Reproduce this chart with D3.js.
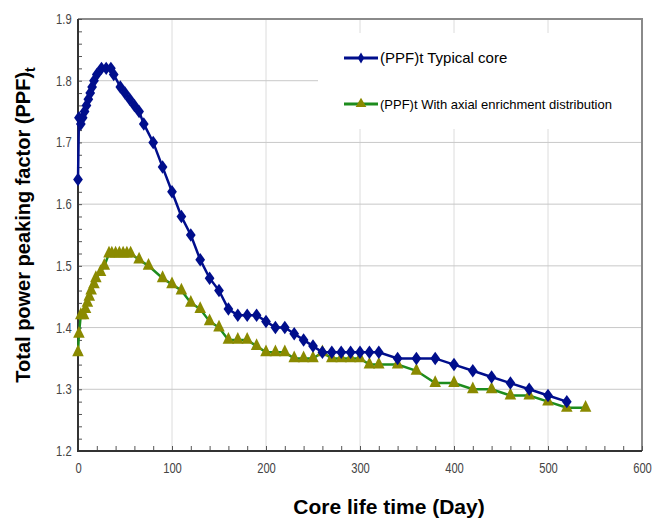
<!DOCTYPE html>
<html>
<head>
<meta charset="utf-8">
<script src="https://cdn.jsdelivr.net/npm/d3@7"></script>
<style>
  body { margin: 0; background: #fff; }
  .tick text { font-family: "Liberation Sans Narrow", "Arial Narrow", "Liberation Sans", sans-serif; }
</style>
</head>
<body>
<div id="chart"></div>
<script>
// data
var typDays = [0, 1, 3, 5, 7, 9, 11, 13, 15, 17, 20, 25, 30, 35, 38, 45, 50, 55, 60, 65, 70, 80, 90, 100,
    110, 120, 130, 140, 150, 160, 170, 180, 190, 200, 210, 220, 230, 240, 250, 260, 270, 280, 290, 300,
    310, 320, 340, 360, 380, 400, 420, 440, 460, 480, 500, 520];
var typPPF = [1.64, 1.74, 1.73, 1.74, 1.75, 1.76, 1.77, 1.78, 1.79, 1.80, 1.81, 1.82, 1.82, 1.82, 1.81, 1.79, 1.78, 1.77, 1.76, 1.75, 1.73, 1.70, 1.66, 1.62,
    1.58, 1.55, 1.51, 1.48, 1.46, 1.43, 1.42, 1.42, 1.42, 1.41, 1.40, 1.40, 1.39, 1.38, 1.37, 1.36, 1.36, 1.36, 1.36, 1.36,
    1.36, 1.36, 1.35, 1.35, 1.35, 1.34, 1.33, 1.32, 1.31, 1.30, 1.29, 1.28];

var axDays = [0, 1, 3, 6, 8, 10, 12, 14, 17, 19, 24, 28, 33, 36, 40, 44, 48, 52, 56, 65, 75, 90, 100,
    110, 120, 130, 140, 150, 160, 170, 180, 190, 200, 210, 220, 230, 240, 250, 260, 270, 280, 290, 300,
    310, 320, 340, 360, 380, 400, 420, 440, 460, 480, 500, 520, 540];
var axPPF = [1.36, 1.39, 1.42, 1.42, 1.43, 1.44, 1.45, 1.46, 1.47, 1.48, 1.49, 1.50, 1.52, 1.52, 1.52, 1.52, 1.52, 1.52, 1.52, 1.51, 1.50, 1.48, 1.47,
    1.46, 1.44, 1.43, 1.41, 1.40, 1.38, 1.38, 1.38, 1.37, 1.36, 1.36, 1.36, 1.35, 1.35, 1.35, 1.36, 1.35, 1.35, 1.35, 1.35,
    1.34, 1.34, 1.34, 1.33, 1.31, 1.31, 1.30, 1.30, 1.29, 1.29, 1.28, 1.27, 1.27];

var xTicks = [0, 100, 200, 300, 400, 500, 600];
var yTicks = [1.2, 1.3, 1.4, 1.5, 1.6, 1.7, 1.8, 1.9];
var legendNames = ["(PPF)t Typical core", "(PPF)t With axial enrichment distribution"];

var W = 656, H = 521;
var margin = { top: 19, right: 14, bottom: 70, left: 78 };

var svg = d3.select("#chart").append("svg")
    .attr("width", W)
    .attr("height", H);

var x = d3.scaleLinear().domain([0, 600]).range([margin.left, W - margin.right]);
var y = d3.scaleLinear().domain([1.2, 1.9]).range([H - margin.bottom, margin.top]);

// grid
svg.append("g").selectAll("line")
    .data(xTicks.slice(1, -1))
    .enter().append("line")
    .attr("x1", d => x(d)).attr("x2", d => x(d))
    .attr("y1", y(1.9)).attr("y2", y(1.2))
    .attr("stroke", "#dcdcdc").attr("stroke-width", 1);
svg.append("g").selectAll("line")
    .data(yTicks.slice(1, -1))
    .enter().append("line")
    .attr("x1", x(0)).attr("x2", x(600))
    .attr("y1", d => y(d)).attr("y2", d => y(d))
    .attr("stroke", "#c8c8c8").attr("stroke-width", 1);

// legend background hides the grid
svg.append("rect")
    .attr("x", 318).attr("y", 33)
    .attr("width", x(600) - 319).attr("height", 96)
    .attr("fill", "#fff");

// top / right frame
svg.append("path")
    .attr("d", "M" + x(0) + "," + y(1.9) + "H" + x(600) + "V" + y(1.2))
    .attr("fill", "none").attr("stroke", "#8a8a8a").attr("stroke-width", 2);

// minor ticks (inside)
svg.append("g")
    .attr("transform", "translate(0," + y(1.2) + ")")
    .call(d3.axisBottom(x).tickValues(d3.range(0, 601, 20)).tickSize(-5).tickFormat(""))
    .call(g => g.select(".domain").remove())
    .selectAll("line").attr("stroke", "#555");
svg.append("g")
    .attr("transform", "translate(" + x(0) + ",0)")
    .call(d3.axisLeft(y).tickValues(d3.range(1.2, 1.901, 0.02)).tickSize(-4).tickFormat(""))
    .call(g => g.select(".domain").remove())
    .selectAll("line").attr("stroke", "#555");

// axis labels (narrow look)
var xAxis = svg.append("g")
    .attr("transform", "translate(0," + y(1.2) + ")")
    .call(d3.axisBottom(x).tickValues(xTicks).tickSize(0).tickPadding(12));
xAxis.select(".domain").remove();
xAxis.selectAll("text").attr("font-size", 14).attr("fill", "#444")
    .attr("transform", "scale(0.8,1)");

var yAxis = svg.append("g")
    .attr("transform", "translate(" + x(0) + ",0)")
    .call(d3.axisLeft(y).tickValues(yTicks).tickSize(0).tickPadding(8).tickFormat(d3.format(".1f")));
yAxis.select(".domain").remove();
yAxis.selectAll("text").attr("font-size", 14).attr("fill", "#444")
    .attr("transform", "scale(0.8,1)");

// left / bottom axis lines
svg.append("path")
    .attr("d", "M" + x(0) + "," + y(1.9) + "V" + y(1.2) + "H" + x(600))
    .attr("fill", "none").attr("stroke", "#333").attr("stroke-width", 2);

// series
var line = d3.line().x(d => x(d[0])).y(d => y(d[1]));
var typData = d3.zip(typDays, typPPF);
var axData = d3.zip(axDays, axPPF);

var blue = "#000e8c", green = "#1d8c1d", olive = "#8a8a00";
var diamond = d3.symbol().type(d3.symbolDiamond).size(62);
var triangle = d3.symbol().type(d3.symbolTriangle).size(64);

svg.append("path").datum(axData)
    .attr("d", line).attr("fill", "none").attr("stroke", green).attr("stroke-width", 2.5);
svg.append("g").selectAll("path")
    .data(axData).enter().append("path")
    .attr("d", triangle)
    .attr("transform", d => "translate(" + x(d[0]) + "," + y(d[1]) + ") scale(0.95,1.12)")
    .attr("fill", olive);

svg.append("path").datum(typData)
    .attr("d", line).attr("fill", "none").attr("stroke", blue).attr("stroke-width", 2.5);
svg.append("g").selectAll("path")
    .data(typData).enter().append("path")
    .attr("d", diamond)
    .attr("transform", d => "translate(" + x(d[0]) + "," + y(d[1]) + ") scale(1.15,0.92)")
    .attr("fill", blue);

// legend
var leg = svg.append("g").attr("font-family", "Liberation Sans, Arial, sans-serif").attr("fill", "#000");
var legY = [58, 104];
[[blue, blue], [green, olive]].forEach(function(s, i) {
    leg.append("line")
        .attr("x1", 344).attr("x2", 378).attr("y1", legY[i]).attr("y2", legY[i])
        .attr("stroke", s[0]).attr("stroke-width", 3);
    leg.append("path")
        .attr("d", i === 0 ? d3.symbol().type(d3.symbolDiamond).size(36)() : d3.symbol().type(d3.symbolTriangle).size(50)())
        .attr("transform", "translate(361," + legY[i] + ")")
        .attr("fill", s[1]);
    leg.append("text")
        .attr("x", 380).attr("y", legY[i]).attr("dy", "0.35em")
        .attr("font-size", i === 0 ? 15 : 13)
        .text(legendNames[i]);
});

// axis titles
svg.append("text")
    .attr("x", 389).attr("y", 514)
    .attr("text-anchor", "middle")
    .attr("font-family", "Liberation Sans, Arial, sans-serif")
    .attr("font-weight", "bold").attr("font-size", 21)
    .text("Core life time (Day)");

var yt = svg.append("text")
    .attr("transform", "translate(30,225) rotate(-90)")
    .attr("text-anchor", "middle")
    .attr("font-family", "Liberation Sans, Arial, sans-serif")
    .attr("font-weight", "bold").attr("font-size", 20);
yt.append("tspan").text("Total power peaking factor (PPF)");
yt.append("tspan").attr("font-size", 14).attr("dy", 5).text("t");
</script>
</body>
</html>
